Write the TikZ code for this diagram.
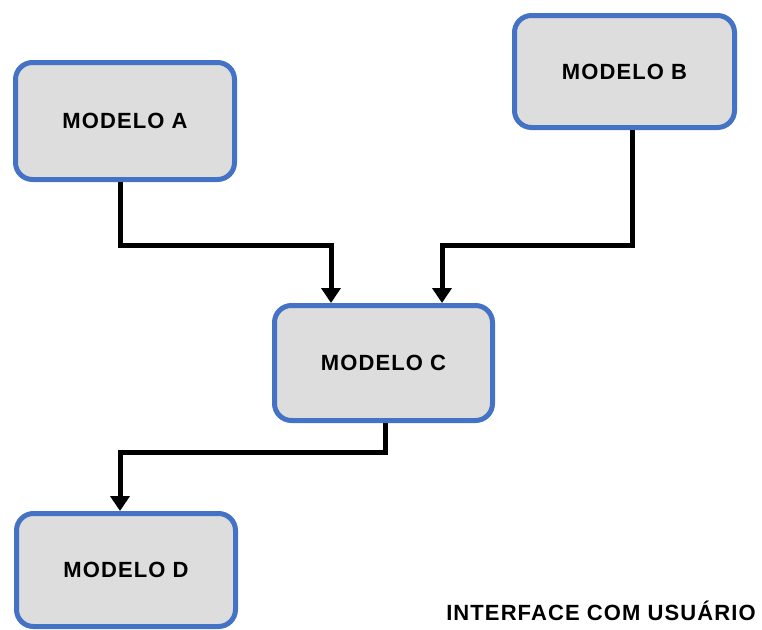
\documentclass[tikz,border=0pt]{standalone}
\usepackage{fontspec}
\setmainfont{Liberation Sans}[LetterSpace=5]
\usetikzlibrary{arrows.meta}
\definecolor{boxblue}{HTML}{4472C4}
\definecolor{boxfill}{HTML}{DDDDDD}
\tikzset{
  model/.style={draw=boxblue, fill=boxfill, line width=5pt, rounded corners=17pt,
    inner sep=0pt, font=\bfseries\fontsize{22}{26}\selectfont},
  conn/.style={line width=5pt, black, line join=miter,
    -{Triangle[length=15pt,width=19pt]}}
}
\begin{document}
\begin{tikzpicture}[x=1pt,y=-1pt]
\useasboundingbox (0,0) rectangle (762,629);
\node[model, minimum width=219pt, minimum height=117pt] (A) at (125,121) {MODELO A};
\node[model, minimum width=220pt, minimum height=112pt] (B) at (624.5,71.5) {MODELO B};
\node[model, minimum width=218pt, minimum height=115pt] (C) at (383.5,363) {MODELO C};
\node[model, minimum width=219pt, minimum height=113pt] (D) at (126,570) {MODELO D};
\node[font=\bfseries\fontsize{22}{26}\selectfont, inner sep=0pt] (T) at (601,611) {INTERFACE COM USUÁRIO};
\coordinate (a1) at (120,0);
\coordinate (acm) at (331,245);
\coordinate (b1) at (632,0);
\coordinate (bcm) at (442,245);
\coordinate (c1) at (385,0);
\coordinate (cdm) at (120,452);
\draw[conn] (A.south -| a1) |- (acm) -- (C.north -| acm);
\draw[conn] (B.south -| b1) |- (bcm) -- (C.north -| bcm);
\draw[conn] (C.south -| c1) |- (cdm) -- (D.north -| cdm);
\end{tikzpicture}
\end{document}
